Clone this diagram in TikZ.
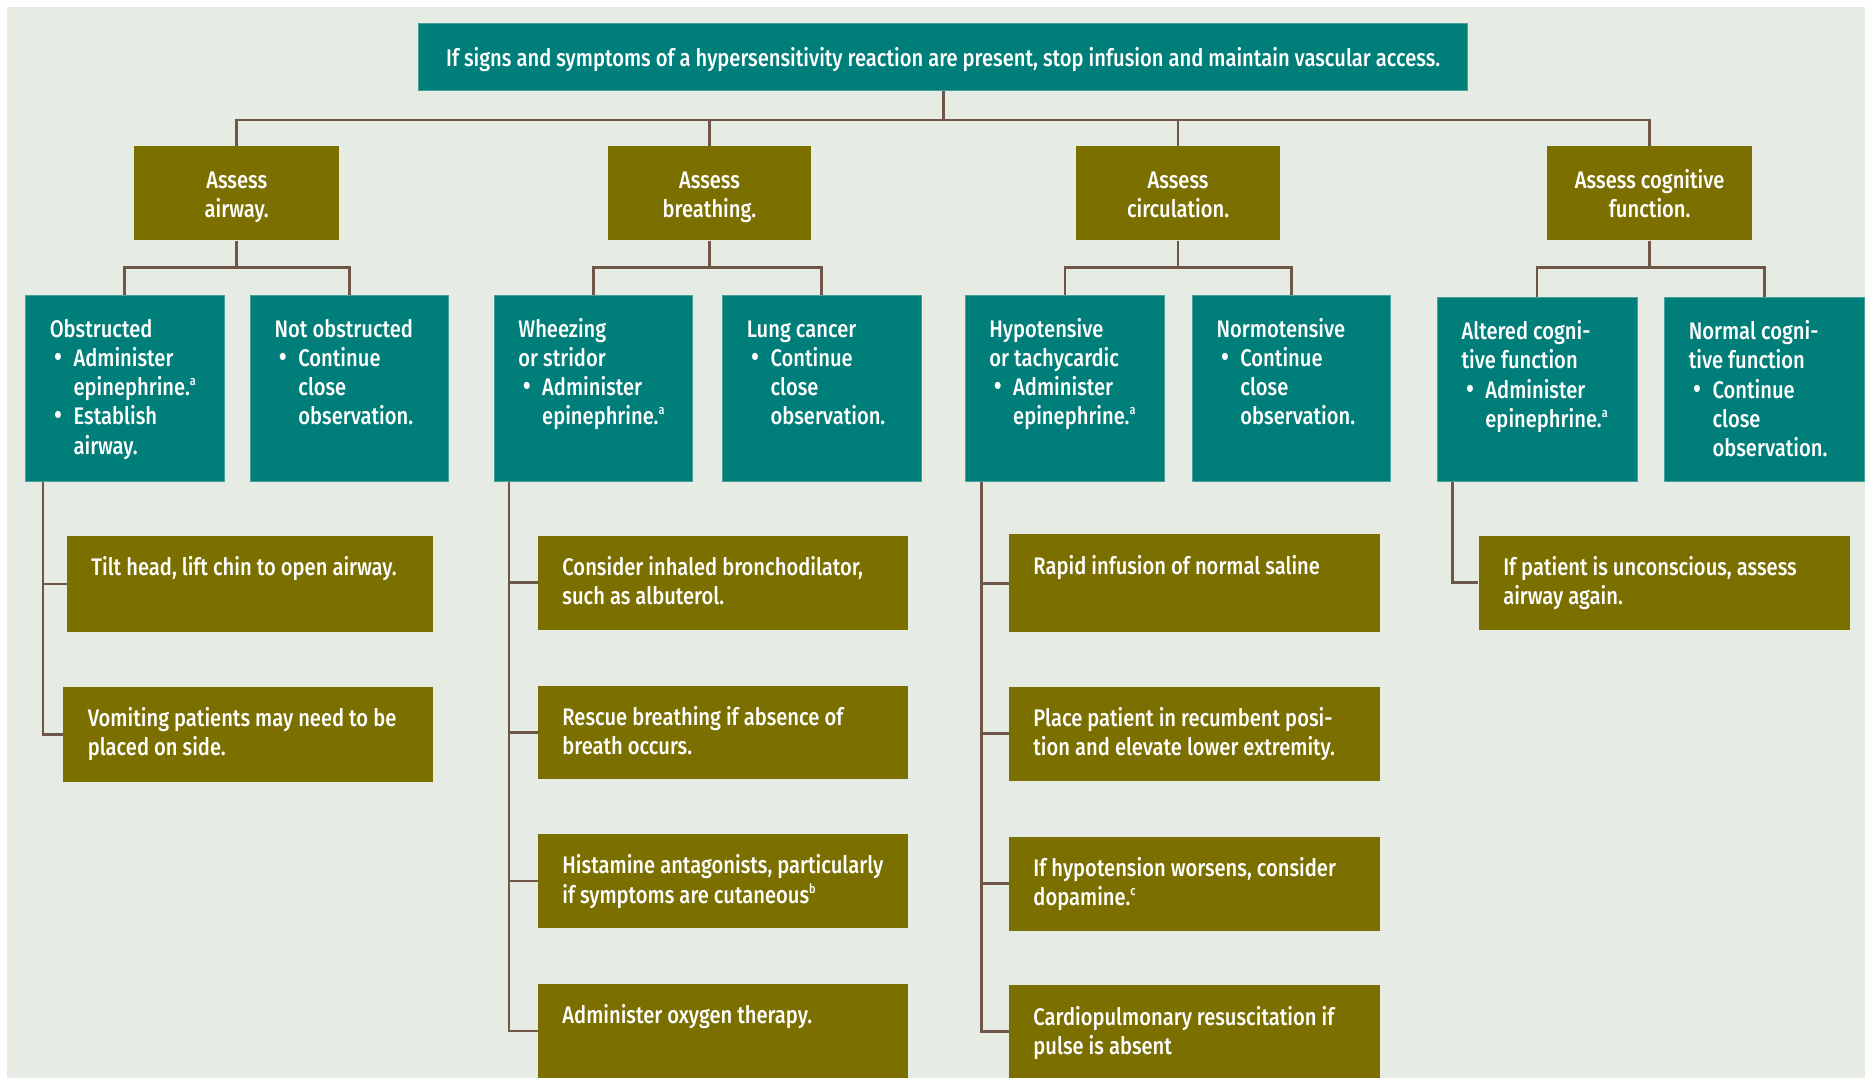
\documentclass[tikz,border=0pt]{standalone}
\usepackage{fontspec}
\setmainfont{Fira Sans}[FakeStretch=0.84, UprightFont={* Medium}]
\usetikzlibrary{calc,backgrounds}
\definecolor{cTeal}{RGB}{0,126,121}
\definecolor{cTealEdge}{RGB}{70,160,155}
\definecolor{cOlive}{RGB}{123,111,0}
\definecolor{cBg}{RGB}{230,235,228}
\definecolor{cLine}{RGB}{110,86,72}
\newlength\padx \setlength\padx{12.2pt}
\newlength\bind \setlength\bind{11.9pt}
\newlength\firstb \setlength\firstb{19.3pt}
\newcommand\nl{\unskip\penalty-10000 }
\newcommand\tstrut{\rule{0pt}{13.8pt}}
\newcommand\sups[1]{\raisebox{0.42em}{\fontsize{6.5pt}{7pt}\selectfont #1}}
\newcommand\bitem{\par\hangindent=\bind\hangafter=1\noindent\makebox[\bind][l]{\hspace{2.2pt}\smash{\fontsize{14pt}{14pt}\selectfont\textbullet}}}
\newcommand\tbox[7]{\node[#1, anchor=north west, inner sep=0pt] (#2) at (#3,#4) {\vbox to \dimexpr0.5947pt*\numexpr#6-#4\relax\relax{\hsize=\dimexpr0.5947pt*\numexpr#5-#3\relax\relax\parindent=0pt\parskip=0pt\leftskip=\padx\rightskip=-100pt plus 1fil\baselineskip=14.6pt\lineskiplimit=-10pt\noindent\rule{0pt}{\firstb}#7\par\vss}};}
\newcommand\cbox[7]{\node[#1, inner sep=0pt, align=center, minimum width={(#5-#3)*0.5947pt}, minimum height={(#6-#4)*0.5947pt}] (#2) at ({(#3+#5)/2},{(#4+#6)/2}) {#7};}
\tikzset{
  tbx/.style={fill=cTeal, draw=cTealEdge, line width=0.4pt, text=white},
  ob/.style={fill=cOlive, text=white},
  conn/.style={draw=cLine, line width=1.3pt},
}
\begin{document}
\begin{tikzpicture}[x=0.5947pt, y=-0.5947pt, font=\fontsize{12pt}{14.6pt}\selectfont]
\useasboundingbox (0,0) rectangle (1568,906);
% top
\cbox{tbx}{top}{352}{20}{1234}{76}{\tstrut If signs and symptoms of a hypersensitivity reaction are present, stop infusion and maintain vascular access.\strut}
% level 2
\cbox{ob}{air}{113}{123}{285}{202}{\tstrut Assess\\airway.\strut}
\cbox{ob}{bre}{511}{123}{682}{202}{\tstrut Assess\\breathing.\strut}
\cbox{ob}{cir}{905}{123}{1076}{202}{\tstrut Assess\\circulation.\strut}
\cbox{ob}{cog}{1301}{123}{1473}{202}{\tstrut Assess cognitive\\function.\strut}
% level 3
\setlength\firstb{21pt}
\tbox{tbx}{obs}{21}{248}{188}{404}{Obstructed\bitem Administer\nl epinephrine.\sups{a}\bitem Establish\nl airway.}
\tbox{tbx}{nob}{210}{248}{377}{404}{Not obstructed\bitem Continue\nl close\nl observation.}
\tbox{tbx}{whe}{415}{248}{582}{404}{Wheezing\nl or stridor\bitem Administer\nl epinephrine.\sups{a}}
\tbox{tbx}{lun}{607}{248}{774}{404}{Lung cancer\bitem Continue\nl close\nl observation.}
\tbox{tbx}{hyp}{811}{248}{979}{404}{Hypotensive\nl or tachycardic\bitem Administer\nl epinephrine.\sups{a}}
\tbox{tbx}{nor}{1002}{248}{1169}{404}{Normotensive\bitem Continue\nl close\nl observation.}
\tbox{tbx}{alt}{1208}{250}{1376}{404}{Altered cogni-\nl tive function\bitem Administer\nl epinephrine.\sups{a}}
\tbox{tbx}{ncf}{1399}{250}{1567}{404}{Normal cogni-\nl tive function\bitem Continue\nl close\nl observation.}
% level 4
\setlength\firstb{19.9pt}
\tbox{ob}{tilt}{56}{450}{364}{531}{Tilt head, lift chin to open airway.}
\tbox{ob}{vom}{53}{577}{364}{657}{Vomiting patients may need to be\nl placed on side.}
\tbox{ob}{con}{452}{450}{763}{529}{Consider inhaled bronchodilator,\nl such as albuterol.}
\tbox{ob}{res}{452}{576}{763}{655}{Rescue breathing if absence of\nl breath occurs.}
\tbox{ob}{his}{452}{701}{763}{780}{Histamine antagonists, particularly\nl if symptoms are cutaneous\sups{b}}
\tbox{ob}{oxy}{452}{827}{763}{906}{Administer oxygen therapy.}
\tbox{ob}{rap}{848}{449}{1160}{531}{Rapid infusion of normal saline}
\tbox{ob}{pla}{848}{577}{1160}{656}{Place patient in recumbent posi-\nl tion and elevate lower extremity.}
\tbox{ob}{ihw}{848}{703}{1160}{782}{If hypotension worsens, consider\nl dopamine.\sups{c}}
\tbox{ob}{cpr}{848}{828}{1160}{906}{Cardiopulmonary resuscitation if\nl pulse is absent}
\tbox{ob}{unc}{1243}{450}{1555}{529}{If patient is unconscious, assess\nl airway again.}
\begin{pgfonlayer}{background}
\fill[white] (0,0) rectangle (1568,906);
\fill[cBg] (6,6) rectangle (1568,906);
\coordinate (bus) at (0,101);
\coordinate (bus2) at (0,225);
\draw[conn] (top.south) -- (top.south |- bus);
\draw[conn] (air.north) -- (air.north |- bus) -- (cog.north |- bus) -- (cog.north);
\draw[conn] (bre.north) -- (bre.north |- bus);
\draw[conn] (cir.north) -- (cir.north |- bus);
\draw[conn] (air.south) -- (air.south |- bus2);
\draw[conn] (bre.south) -- (bre.south |- bus2);
\draw[conn] (cir.south) -- (cir.south |- bus2);
\draw[conn] (cog.south) -- (cog.south |- bus2);
\draw[conn] (obs.north) -- (obs.north |- bus2) -- (nob.north |- bus2) -- (nob.north);
\draw[conn] (whe.north) -- (whe.north |- bus2) -- (lun.north |- bus2) -- (lun.north);
\draw[conn] (hyp.north) -- (hyp.north |- bus2) -- (nor.north |- bus2) -- (nor.north);
\draw[conn] (alt.north) -- (alt.north |- bus2) -- (ncf.north |- bus2) -- (ncf.north);
\draw[conn] ($(obs.south west)+(15,0)$) |- (tilt.west);
\draw[conn] ($(obs.south west)+(15,0)$) |- (vom.west);
\draw[conn] ($(whe.south west)+(13,0)$) |- (con.west);
\draw[conn] ($(whe.south west)+(13,0)$) |- (res.west);
\draw[conn] ($(whe.south west)+(13,0)$) |- (his.west);
\draw[conn] ($(whe.south west)+(13,0)$) |- (oxy.west);
\draw[conn] ($(hyp.south west)+(14,0)$) |- (rap.west);
\draw[conn] ($(hyp.south west)+(14,0)$) |- (pla.west);
\draw[conn] ($(hyp.south west)+(14,0)$) |- (ihw.west);
\draw[conn] ($(hyp.south west)+(14,0)$) |- (cpr.west);
\draw[conn] ($(alt.south west)+(13,0)$) |- (unc.west);
\end{pgfonlayer}
\end{tikzpicture}
\end{document}
